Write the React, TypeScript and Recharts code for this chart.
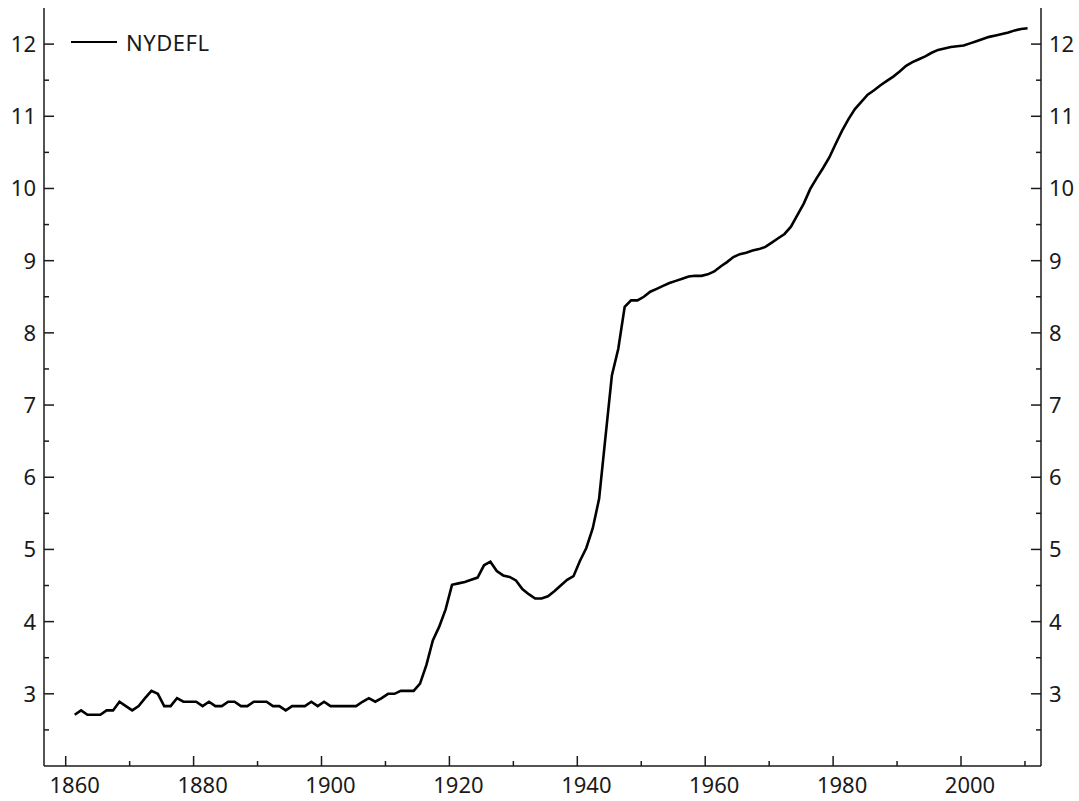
import React from "react";
import { LineChart, Line, XAxis, YAxis } from "recharts";

// annual series, first observation 1860
const FIRST_YEAR = 1860;
const nydefl: number[] = [
  2.71, 2.77, 2.71, 2.71, 2.71, 2.77, 2.77, 2.89, 2.83, 2.77, // 1860s
  2.83, 2.94, 3.04, 3.0, 2.83, 2.83, 2.94, 2.89, 2.89, 2.89, // 1870s
  2.83, 2.89, 2.83, 2.83, 2.89, 2.89, 2.83, 2.83, 2.89, 2.89, // 1880s
  2.89, 2.83, 2.83, 2.77, 2.83, 2.83, 2.83, 2.89, 2.83, 2.89, // 1890s
  2.83, 2.83, 2.83, 2.83, 2.83, 2.89, 2.94, 2.89, 2.94, 3.0, // 1900s
  3.0, 3.04, 3.04, 3.04, 3.14, 3.4, 3.74, 3.93, 4.17, 4.51, // 1910s
  4.53, 4.55, 4.58, 4.61, 4.78, 4.83, 4.7, 4.64, 4.62, 4.57, // 1920s
  4.45, 4.38, 4.32, 4.32, 4.35, 4.42, 4.5, 4.58, 4.63, 4.84, // 1930s
  5.02, 5.29, 5.7, 6.56, 7.41, 7.78, 8.36, 8.45, 8.45, 8.5, // 1940s
  8.57, 8.61, 8.65, 8.69, 8.72, 8.75, 8.78, 8.79, 8.79, 8.81, // 1950s
  8.85, 8.92, 8.98, 9.05, 9.09, 9.11, 9.14, 9.16, 9.19, 9.25, // 1960s
  9.31, 9.37, 9.47, 9.63, 9.79, 9.99, 10.14, 10.28, 10.43, 10.62, // 1970s
  10.8, 10.96, 11.1, 11.2, 11.3, 11.36, 11.43, 11.49, 11.55, 11.62, // 1980s
  11.7, 11.75, 11.79, 11.83, 11.88, 11.92, 11.94, 11.96, 11.97, 11.98, // 1990s
  12.01, 12.04, 12.07, 12.1, 12.12, 12.14, 12.16, 12.19, 12.21, 12.22, // 2000s
];

const xTicks = [1860, 1870, 1880, 1890, 1900, 1910, 1920, 1930, 1940, 1950, 1960, 1970, 1980, 1990, 2000, 2010];
const yTicks = [2.5, 3, 3.5, 4, 4.5, 5, 5.5, 6, 6.5, 7, 7.5, 8, 8.5, 9, 9.5, 10, 10.5, 11, 11.5, 12];

const data = nydefl.map((v, i) => ({ year: FIRST_YEAR + i, NYDEFL: v }));

const FONT = "'Noto Sans', sans-serif";
const INK = "#1a1a1a";

// bottom axis: tick marks sit a bit left of the year labels, labels every 20 years
const XTick = (props: any) => {
  const { x, y, payload } = props;
  const major = payload.value % 20 === 0;
  return (
    <g>
      <line x1={x - 9} x2={x - 9} y1={y} y2={y - (major ? 10 : 5)} stroke={INK} strokeWidth={1.5} />
      {major && (
        <text x={x} y={y + 27} textAnchor="middle" fontSize={22} fontFamily={FONT} fill={INK}>
          {payload.value}
        </text>
      )}
    </g>
  );
};

const YTickLeft = (props: any) => {
  const { x, y, payload } = props;
  const major = Number.isInteger(payload.value);
  return (
    <g>
      <line x1={x} x2={x + (major ? 10 : 5)} y1={y} y2={y} stroke={INK} strokeWidth={1.5} />
      {major && (
        <text x={x - 8} y={y + 8} textAnchor="end" fontSize={22} fontFamily={FONT} fill={INK}>
          {payload.value}
        </text>
      )}
    </g>
  );
};

const YTickRight = (props: any) => {
  const { x, y, payload } = props;
  const major = Number.isInteger(payload.value);
  return (
    <g>
      <line x1={x} x2={x - (major ? 10 : 5)} y1={y} y2={y} stroke={INK} strokeWidth={1.5} />
      {major && (
        <text x={x + 8} y={y + 8} textAnchor="start" fontSize={22} fontFamily={FONT} fill={INK}>
          {payload.value}
        </text>
      )}
    </g>
  );
};

// legend drawn as an overlay so it does not take space from the plot
const LegendBox = () => (
  <div
    style={{
      position: "absolute", left: 71, top: 29, display: "flex", alignItems: "center",
      fontFamily: FONT, fontSize: 22, color: INK, lineHeight: "26px",
    }}
  >
    <span style={{ width: 46, height: 2.5, background: "#000", display: "inline-block", marginRight: 9 }} />
    <span style={{ letterSpacing: 0.5 }}>NYDEFL</span>
  </div>
);

export default function App() {
  return (
    <div style={{ position: "absolute", left: 0, top: 0, width: 1079, height: 801, background: "#fff" }}>
      <LineChart width={1079} height={801} data={data} margin={{ top: 8, right: 0, bottom: 0, left: 0 }}>
        <XAxis
          xAxisId="bottom"
          dataKey="year"
          type="number"
          domain={[1855.2, 2011.1]}
          ticks={xTicks}
          interval={0}
          height={35}
          tickSize={0}
          tickMargin={0}
          tickLine={false}
          tick={<XTick />}
          axisLine={{ stroke: INK, strokeWidth: 1.5 }}
          allowDataOverflow
        />
        <XAxis
          xAxisId="top"
          orientation="top"
          dataKey="year"
          type="number"
          domain={[1855.2, 2011.1]}
          height={0}
          tick={false}
          tickLine={false}
          axisLine={{ stroke: INK, strokeWidth: 1.5 }}
          allowDataOverflow
        />
        <YAxis
          yAxisId="left"
          domain={[2, 12.5]}
          ticks={yTicks}
          interval={0}
          width={44}
          tickSize={0}
          tickMargin={0}
          tickLine={false}
          tick={<YTickLeft />}
          axisLine={{ stroke: INK, strokeWidth: 1.5 }}
          allowDataOverflow
        />
        <YAxis
          yAxisId="right"
          orientation="right"
          domain={[2, 12.5]}
          ticks={yTicks}
          interval={0}
          width={38}
          tickSize={0}
          tickMargin={0}
          tickLine={false}
          tick={<YTickRight />}
          axisLine={{ stroke: INK, strokeWidth: 1.5 }}
          allowDataOverflow
        />
        <Line
          xAxisId="bottom"
          yAxisId="left"
          type="linear"
          dataKey="NYDEFL"
          stroke="#000"
          strokeWidth={2.6}
          dot={false}
          isAnimationActive={false}
        />
      </LineChart>
      <LegendBox />
    </div>
  );
}
